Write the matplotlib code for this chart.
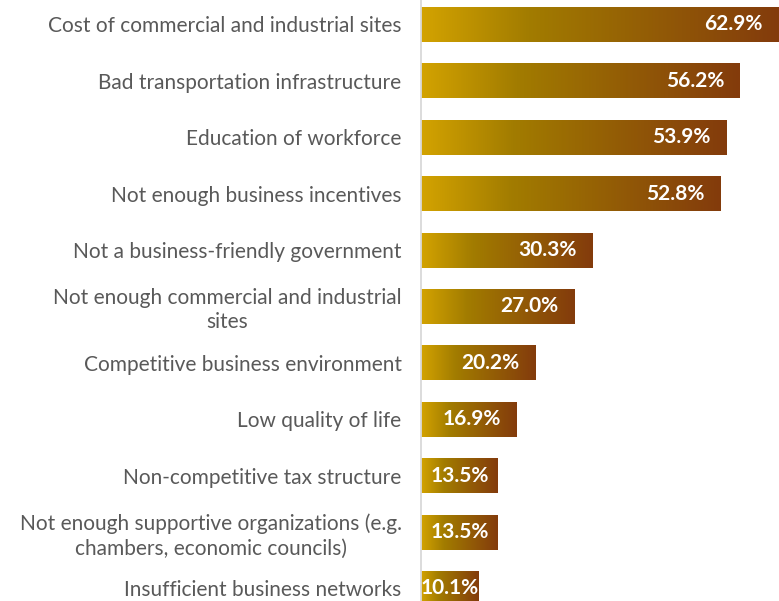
import matplotlib
matplotlib.use("Agg")
import matplotlib.pyplot as plt
import numpy as np
from matplotlib.colors import LinearSegmentedColormap

categories = [
    "Cost of commercial and industrial sites",
    "Bad transportation infrastructure",
    "Education of workforce",
    "Not enough business incentives",
    "Not a business-friendly government",
    "Not enough commercial and industrial\nsites",
    "Competitive business environment",
    "Low quality of life",
    "Non-competitive tax structure",
    "Not enough supportive organizations (e.g.\nchambers, economic councils)",
    "Insufficient business networks",
]
shares = [62.9, 56.2, 53.9, 52.8, 30.3, 27.0, 20.2, 16.9, 13.5, 13.5, 10.1]

W, H = 779, 601
fig = plt.figure(figsize=(W / 100, H / 100), dpi=100)

# axes placed in pixel terms: spine at x=421, rows 56.4 px apart
x0, x1 = 421, 779
px_per_pct = 5.676
row = 56.4
top = 24.5 - row / 2
bottom = 24.5 + (len(shares) - 0.5) * row
ax = fig.add_axes([x0 / W, (H - bottom) / H, (x1 - x0) / W, (bottom - top) / H])

gold = LinearSegmentedColormap.from_list(
    "gold_brown", [(0.0, "#D3A300"), (0.3, "#A27C00"), (1.0, "#833B0C")]
)
grad = np.linspace(0, 1, 256).reshape(1, -1)

ax.set_xlim(0, (x1 - x0) / px_per_pct)
ax.set_ylim(len(shares) - 0.5, -0.5)

renderer = fig.canvas.get_renderer()
bar_h = 0.62
pad_px = 16
for i, v in enumerate(shares):
    ax.imshow(grad, cmap=gold, aspect="auto", interpolation="bicubic",
              extent=(0, v, i + bar_h / 2, i - bar_h / 2), zorder=2)
    t = ax.text(v, i, f"{v:.1f}%", ha="right", va="center", color="white",
                fontsize=15, fontweight="bold", family="Lato", zorder=3)
    w_px = t.get_window_extent(renderer).width
    bar_px = v * px_per_pct
    if bar_px >= w_px + 2 * pad_px:
        t.set_x(v - pad_px / px_per_pct)
    else:
        # too narrow for inside-end placement: center on the bar
        t.set_x(v / 2)
        t.set_ha("center")

ax.set_yticks(range(len(shares)))
ax.set_yticklabels(categories, fontsize=15, family="Lato", color="#595959",
                   linespacing=1.25, multialignment="center")
ax.tick_params(axis="y", length=0, pad=14)
ax.set_xticks([])
for s in ("top", "right", "bottom"):
    ax.spines[s].set_visible(False)
ax.spines["left"].set_color("#D9D9D9")
ax.spines["left"].set_linewidth(1.3)

fig.savefig("out.png", dpi=100)
